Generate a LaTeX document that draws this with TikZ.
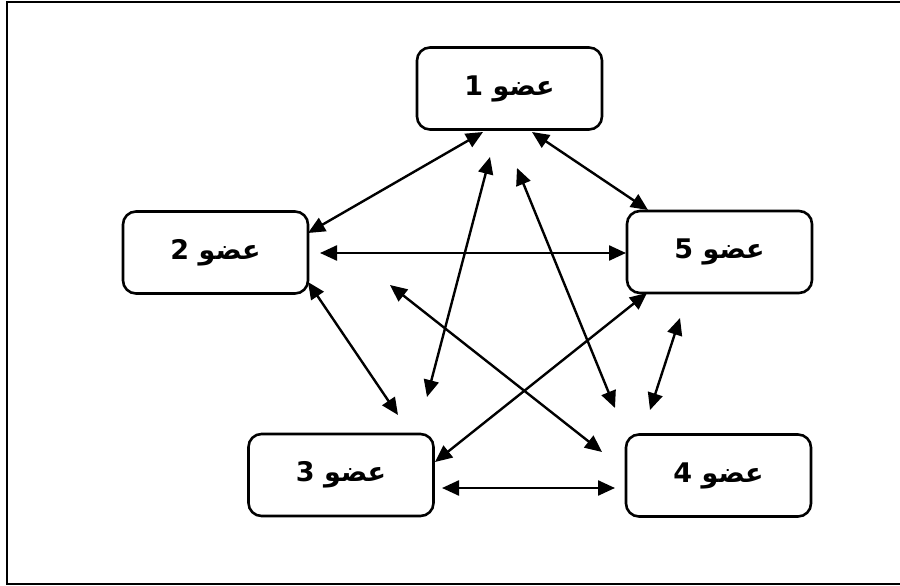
\documentclass[tikz,border=0pt]{standalone}
\usepackage{fontspec}
\TeXXeTstate=1
\newfontfamily\arabicfont[Script=Arabic]{DejaVu Sans}
\usetikzlibrary{arrows.meta}
\tikzset{
  member/.style={draw, line width=2.6pt, rounded corners=13pt, minimum width=185pt, minimum height=82pt, inner sep=0pt, font=\arabicfont\bfseries\fontsize{27}{31}\selectfont},
  link/.style={line width=2.4pt, {Triangle[length=17pt,width=15pt]}-{Triangle[length=17pt,width=15pt]}},
}
\newcommand{\ar}[1]{\beginR #1\endR}
\begin{document}
\begin{tikzpicture}[x=1pt,y=-1pt]
\useasboundingbox (0,0) rectangle (900,586);
\draw[line width=2.4pt] (7,2) rectangle (910,584);
\node[member] (b1) at (509.5,88.5) {\ar{عضو 1}};
\node[member] (b2) at (215.5,252.5) {\ar{عضو 2}};
\node[member] (b5) at (719.5,252) {\ar{عضو 5}};
\node[member] (b3) at (341,475) {\ar{عضو 3}};
\node[member] (b4) at (718.5,475.5) {\ar{عضو 4}};
% endpoints
\coordinate (p1a) at (483,132); \coordinate (p1b) at (308,233);
\coordinate (p2a) at (532,132); \coordinate (p2b) at (648,210);
\coordinate (p3a) at (320,253); \coordinate (p3b) at (626,253);
\coordinate (p4a) at (490,157); \coordinate (p4b) at (427,397);
\coordinate (p5a) at (517,168); \coordinate (p5b) at (615,408);
\coordinate (p6a) at (390,285); \coordinate (p6b) at (602,452);
\coordinate (p7a) at (647,293); \coordinate (p7b) at (435,462);
\coordinate (p8a) at (308,282); \coordinate (p8b) at (398,415);
\coordinate (p9a) at (442,488); \coordinate (p9b) at (615,488);
\coordinate (p10a) at (680,318); \coordinate (p10b) at (650,410);
\draw[link] (p1a) -- (p1b);
\draw[link] (p2a) -- (p2b);
\draw[link] (p3a) -- (p3b);
\draw[link] (p4a) -- (p4b);
\draw[link] (p5a) -- (p5b);
\draw[link] (p6a) -- (p6b);
\draw[link] (p7a) -- (p7b);
\draw[link] (p8a) -- (p8b);
\draw[link] (p9a) -- (p9b);
\draw[link] (p10a) -- (p10b);
\end{tikzpicture}
\end{document}
